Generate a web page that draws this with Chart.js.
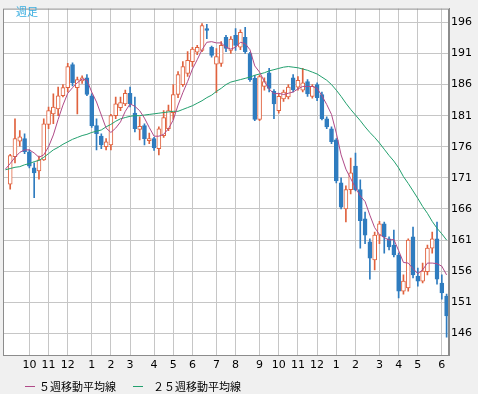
<!DOCTYPE html>
<html><head><meta charset="utf-8">
<script src="https://cdn.jsdelivr.net/npm/chart.js@4"></script>
<style>
html,body{margin:0;padding:0;background:#f0f0f0;}
#wrap{position:relative;width:478px;height:394px;overflow:hidden;}
canvas{display:block;}
#tf{position:absolute;left:16px;top:5px;font-family:"Noto Sans CJK JP";font-size:11px;line-height:12px;color:#3aaee0;}
.lt{position:absolute;top:380px;font-family:"Noto Sans CJK JP";font-size:11px;line-height:12px;color:#000;white-space:nowrap;}
.ll{position:absolute;top:386px;width:10px;height:0;border-top:1px solid;}
</style></head>
<body>
<div id="wrap">
<canvas id="c" width="478" height="394"></canvas>
<div id="tf">週足</div>
<div class="ll" style="left:25px;border-color:#b04a88"></div>
<div class="lt" style="left:39px">５週移動平均線</div>
<div class="ll" style="left:133px;border-color:#22a06e"></div>
<div class="lt" style="left:153px">２５週移動平均線</div>
</div>
<script>
const weekLabels = ['','','','','','10','','','','11',
'','','','12','','','','','1','',
'','','2','','','','3','','','',
'','4','','','','5','','','','6',
'','','','','7','','','','8','',
'','','','9','','','','10','','',
'','11','','','','12','','','','1',
'','','','2','','','','','3','',
'','','4','','','','5','','','',
'','6',''];

const opens = [null,170.0,174.4,176.9,177.3,175.2,172.6,172.1,173.9,179.6,
181.3,182.1,184.2,185.5,189.2,185.5,186.6,187.1,184.2,179.4,
177.7,176.0,176.3,181.0,182.3,182.9,184.6,181.4,178.8,179.4,
177.0,177.3,175.7,177.8,178.9,181.5,184.4,186.0,187.8,189.7,
191.2,191.5,195.0,192.0,189.3,189.4,193.6,191.5,193.9,192.0,
193.6,191.0,187.0,180.4,185.7,187.9,184.9,181.8,183.7,184.0,
187.1,185.6,185.1,186.5,184.1,186.0,184.4,180.5,178.9,177.1,
170.2,166.0,169.1,172.9,169.1,164.4,160.7,157.8,161.8,163.6,
161.2,160.2,158.6,152.8,153.3,161.5,155.2,154.4,155.9,159.7,
161.2,154.1,152.0];

const highs = [null,174.8,180.5,178.6,178.1,175.5,173.4,174.5,180.5,182.4,
184.5,185.6,186.0,189.4,189.5,187.2,187.4,187.6,184.5,180.5,
178.1,177.3,181.2,184.0,184.0,185.1,185.6,184.0,180.8,179.7,
178.2,177.5,179.2,181.8,182.7,186.0,188.1,189.7,191.3,192.0,
192.3,195.8,195.7,192.2,191.8,192.9,193.9,193.7,195.0,194.8,
195.2,191.2,187.5,187.5,187.1,188.6,185.2,184.6,185.1,186.0,
187.6,187.3,188.6,186.8,186.0,186.3,184.8,180.8,179.2,177.3,
171.0,169.7,174.2,175.0,170.7,165.5,161.2,162.3,164.0,163.9,
161.5,162.6,158.9,155.4,161.2,163.1,156.5,157.3,160.2,162.3,
163.9,155.4,152.3];

const lows = [null,169.2,173.4,176.1,174.9,172.6,167.8,170.8,173.8,178.9,
179.7,181.0,184.0,184.8,185.8,181.3,186.2,184.2,179.1,175.5,
175.7,175.5,175.5,180.5,181.8,182.6,182.4,178.4,177.1,176.3,
176.5,175.4,174.7,177.5,178.6,180.4,183.9,185.7,187.3,188.9,
190.8,191.3,193.4,190.4,184.7,188.9,191.3,191.0,191.5,191.6,
191.0,186.5,180.2,180.2,185.1,184.8,180.5,181.4,183.3,183.7,
184.8,185.1,184.8,184.1,183.8,183.4,180.3,178.9,176.5,170.2,
166.0,163.9,168.4,168.9,159.7,160.4,154.7,156.2,160.4,158.9,
159.4,158.3,151.7,152.3,152.8,154.9,153.6,154.1,155.4,158.9,
153.9,151.5,145.4];

const closes = [null,174.6,177.3,177.6,175.2,172.9,171.8,173.9,179.7,181.8,
182.4,184.2,185.5,188.9,186.3,186.8,187.1,184.4,179.4,178.1,
176.3,176.8,181.0,182.9,183.1,184.6,182.9,178.9,179.3,177.3,
177.3,175.8,178.9,180.7,181.8,184.4,187.6,188.9,189.9,191.7,
192.0,195.5,194.7,190.7,190.5,192.3,191.8,193.3,192.3,194.4,
191.3,186.8,180.4,187.3,186.5,185.4,182.9,184.1,184.8,185.6,
185.2,186.7,186.3,184.5,185.7,183.9,180.5,179.2,176.8,170.5,
166.3,169.1,171.8,169.1,164.1,161.8,158.1,161.8,163.6,161.5,
159.9,158.6,152.8,154.4,161.0,155.4,154.4,156.0,159.7,161.2,
154.7,152.5,148.8];

const ma5 = [172.4,173.3,174.3,175.1,175.5,175.5,175.0,174.3,174.7,176.0,
177.9,180.4,182.7,184.6,185.5,186.3,186.9,186.7,184.8,183.2,
181.1,179.0,178.3,179.0,180.0,181.7,182.9,182.5,181.8,180.6,
179.1,177.7,177.7,178.0,178.9,180.3,182.7,184.7,186.5,188.5,
190.0,191.6,192.8,192.9,192.7,192.7,192.0,191.7,192.0,192.8,
192.6,191.6,189.0,188.0,186.5,185.3,184.5,184.6,184.4,184.6,
184.8,185.3,185.7,185.7,185.7,185.4,184.2,182.8,181.2,178.2,
174.7,172.4,170.9,169.4,168.1,167.2,165.0,163.0,161.9,161.4,
161.0,161.1,159.3,157.4,157.3,156.4,155.6,156.2,157.3,157.3,
157.2,156.8,155.4];

const ma25 = [172.3,172.5,172.7,172.8,173.1,173.3,173.6,173.8,174.3,174.9,
175.5,175.9,176.4,176.8,177.2,177.5,177.8,178.0,178.3,178.5,
178.7,179.2,179.6,180.1,180.5,180.7,180.9,181.0,181.0,181.1,
181.2,181.3,181.4,181.5,181.6,181.7,181.7,182.0,182.3,182.6,
183.0,183.4,183.9,184.3,184.9,185.4,186.0,186.4,186.6,186.8,
187.0,187.2,187.5,187.7,187.9,188.2,188.4,188.6,188.8,188.9,
188.8,188.7,188.5,188.3,188.0,187.7,187.2,186.7,186.0,185.1,
184.1,183.0,182.0,181.1,180.2,179.2,178.3,177.5,176.6,175.6,
174.6,173.7,172.6,171.2,170.1,168.9,167.7,166.4,165.3,164.0,
162.9,162.0,161.0];

const yTicks = [146,151,156,161,166,171,176,181,186,191,196];

const upColor = '#e0623e', downColor = '#2f7cbf';
const ma5Color = '#b04a88', ma25Color = '#22a06e';
const gridColor = '#c6c6c6', frameColor = '#8c8c8c';

const isUp = closes.map((c, i) => c !== null && c >= opens[i]);
const bodyData = opens.map((o, i) => o === null ? null : [o, closes[i]]);
const wickData = highs.map((h, i) => h === null ? null : [lows[i], h]);

const framePlugin = {
  id: 'frame',
  beforeDraw(chart) {
    const a = chart.chartArea, ctx = chart.ctx;
    ctx.save();
    ctx.fillStyle = '#ffffff';
    ctx.fillRect(a.left, a.top, a.right - a.left, a.bottom - a.top);
    ctx.restore();
  },
  afterDraw(chart) {
    const a = chart.chartArea, ctx = chart.ctx;
    ctx.save();
    ctx.strokeStyle = frameColor;
    ctx.lineWidth = 1;
    ctx.strokeRect(a.left + 0.5, a.top + 0.5, a.right - a.left - 1, a.bottom - a.top);
    ctx.restore();
  }
};

new Chart(document.getElementById('c'), {
  type: 'bar',
  data: {
    labels: weekLabels,
    datasets: [
      { type: 'line', label: '５週移動平均線', data: ma5, borderColor: ma5Color, borderWidth: 1, pointRadius: 0, tension: 0, order: 0 },
      { type: 'line', label: '２５週移動平均線', data: ma25, borderColor: ma25Color, borderWidth: 1, pointRadius: 0, tension: 0, order: 1 },
      { type: 'bar', label: 'body', data: bodyData,
        backgroundColor: isUp.map(u => u ? '#ffffff' : downColor),
        borderColor: isUp.map(u => u ? upColor : downColor),
        borderWidth: 1, borderSkipped: false, barThickness: 4, grouped: false, order: 2 },
      { type: 'bar', label: 'wick', data: wickData,
        backgroundColor: isUp.map(u => u ? upColor : downColor),
        borderWidth: 0, barThickness: 1, grouped: false, order: 3 }
    ]
  },
  options: {
    responsive: false,
    animation: false,
    layout: { padding: { left: 3, top: 3, right: 0, bottom: 17 } },
    plugins: { legend: { display: false }, tooltip: { enabled: false } },
    scales: {
      x: {
        offset: true,
        grid: { offset: false, drawTicks: false, lineWidth: 1,
          color: ctx => (weekLabels[ctx.index] ? gridColor : 'rgba(0,0,0,0)') },
        border: { display: true, color: frameColor },
        ticks: { autoSkip: false, maxRotation: 0, padding: 4, color: '#000',
          font: { family: 'DejaVu Sans', size: 11 },
          callback: (v, i) => weekLabels[i] },
        afterFit: s => { s.height = 22; }
      },
      y: {
        position: 'right',
        min: 142.52, max: 198.215,
        grid: { color: gridColor, drawTicks: false, lineWidth: 1 },
        border: { display: true, color: frameColor },
        ticks: { padding: 2, color: '#000', font: { family: 'DejaVu Sans', size: 11 } },
        afterBuildTicks: s => { s.ticks = yTicks.map(v => ({ value: v })); },
        afterFit: s => { s.width = 29; }
      }
    }
  },
  plugins: [framePlugin]
});
</script>
</body></html>
